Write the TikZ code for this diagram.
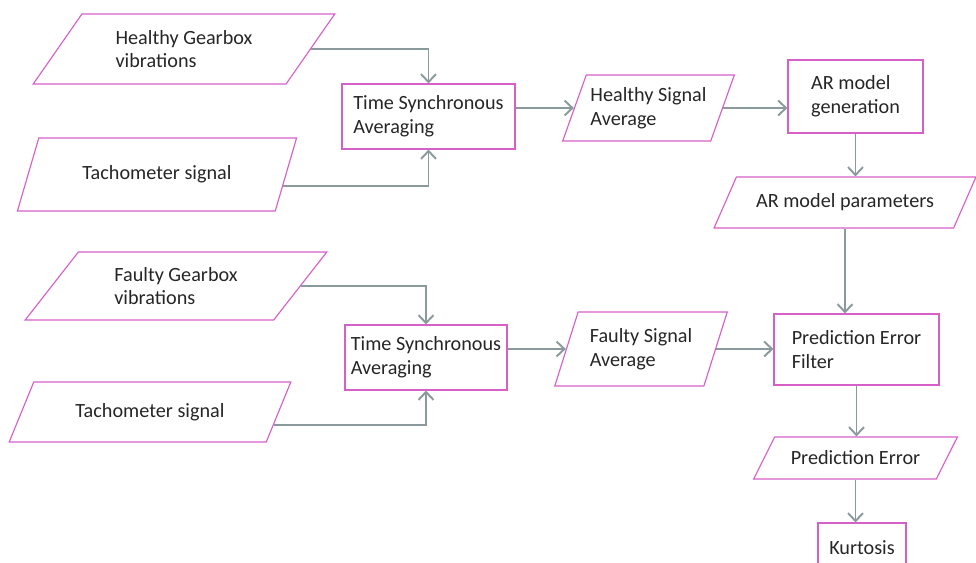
\documentclass[tikz,border=0pt]{standalone}
\usepackage{fontspec}
\setmainfont{Carlito}
\usetikzlibrary{shapes.geometric,arrows.meta}
\definecolor{flowpink}{RGB}{214,96,200}
\definecolor{flowgray}{RGB}{138,154,156}
\definecolor{flowtext}{RGB}{38,38,38}
\tikzset{
  procbox/.style={rectangle, draw=flowpink, line width=0.65pt, align=left, inner sep=0pt,
    text=flowtext, font=\fontsize{11.5}{13.6}\selectfont},
  databox/.style={trapezium, trapezium stretches=true, trapezium left angle=#1,
    trapezium right angle={180-#1}, draw=flowpink, line width=0.65pt, align=left, inner sep=0pt,
    text=flowtext, font=\fontsize{11.5}{13.6}\selectfont},
  flow/.style={draw=flowgray, line width=1.1pt, -{Straight Barb[length=4.5pt,width=8.5pt]}}
}
\begin{document}
\begin{tikzpicture}[x=0.02cm,y=-0.02cm]
\useasboundingbox (0,0) rectangle (976,562);
\node[databox=49.4, minimum width=6.04cm, minimum height=1.40cm] (hgv) at (184,49){Healthy Gearbox\\vibrations};
\node[databox=52.5, minimum width=5.64cm, minimum height=1.46cm] (tach1) at (157,174.5){Tachometer signal};
\node[procbox, minimum width=3.46cm, minimum height=1.30cm] (tsa1) at (428.5,116.5){Time Synchronous\\Averaging};
\node[databox=62, minimum width=3.46cm, minimum height=1.32cm] (hsa) at (648.5,108){Healthy Signal\\Average};
\node[procbox, minimum width=2.70cm, minimum height=1.46cm] (argen) at (855.5,96.5){AR model\\generation};
\node[databox=43.4, minimum width=5.24cm, minimum height=1.02cm] (arpar) at (845,202.5){AR model parameters};
\node[databox=48.6, minimum width=6.04cm, minimum height=1.36cm] (fgv) at (176,286){Faulty Gearbox\\vibrations};
\node[databox=48, minimum width=5.64cm, minimum height=1.20cm] (tach2) at (150,412){Tachometer signal};
\node[procbox, minimum width=3.24cm, minimum height=1.30cm] (tsa2) at (426,357.5){Time Synchronous\\Averaging};
\node[databox=65.3, minimum width=3.48cm, minimum height=1.48cm] (fsa) at (641,349){Faulty Signal\\Average};
\node[procbox, minimum width=3.30cm, minimum height=1.42cm] (pef) at (856.5,349.5){Prediction Error\\Filter};
\node[databox=40, minimum width=4.10cm, minimum height=0.84cm] (perr) at (855.5,458){Prediction Error};
\node[procbox, minimum width=1.76cm, minimum height=1.00cm] (kurt) at (862,548){Kurtosis};
\draw[flow] (hgv.east) -| (tsa1.north);
\draw[flow] (tach1.-5) -| (tsa1.south);
\draw[flow] (tsa1.east |- hsa.west) -- (hsa.west);
\draw[flow] (hsa.east) -- (hsa.east -| argen.west);
\draw[flow] (argen.south) -- (argen.south |- arpar.north);
\draw[flow] (arpar.south) -- (arpar.south |- pef.north);
\draw[flow] (fgv.east) -| (tsa2.north);
\draw[flow] (tach2.-6) -| (tsa2.south);
\draw[flow] (tsa2.east |- fsa.west) -- (fsa.west);
\draw[flow] (fsa.east) -- (fsa.east -| pef.west);
\draw[flow] (pef.south) -- (pef.south |- perr.north);
\draw[flow] (perr.south) -- (perr.south |- kurt.north);
\end{tikzpicture}
\end{document}
